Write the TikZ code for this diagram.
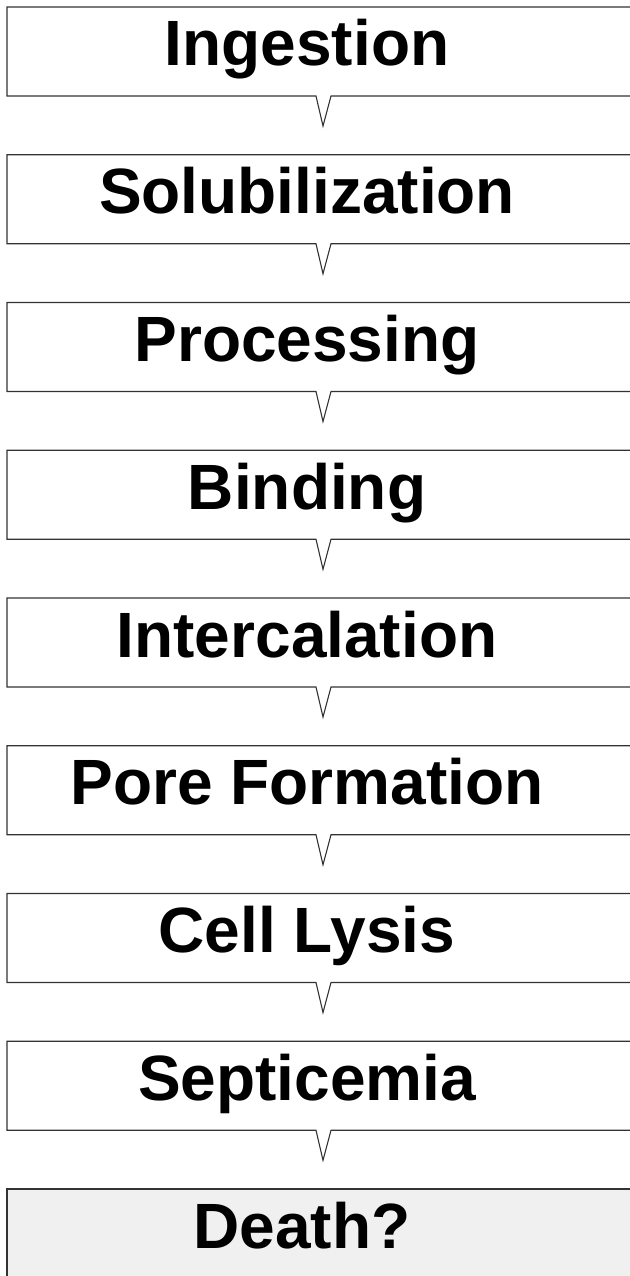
\documentclass[tikz,border=0pt]{standalone}
\usepackage{fontspec}
\setmainfont{Liberation Sans}
\begin{document}
\begin{tikzpicture}[x=1pt,y=-1pt,
  stepbox/.style={draw=black!80, line width=1.1pt},
  steplabel/.style={anchor=base, inner sep=0pt, font=\fontsize{64}{70}\selectfont\bfseries}]
  \useasboundingbox (0,0) rectangle (629,1276);

  % callout boxes, one per stage
  \foreach \name [count=\i] in {Ingestion,Solubilization,Processing,Binding,Intercalation,Pore Formation,Cell Lysis,Septicemia}{
    \pgfmathsetmacro\ytop{7+147.75*(\i-1)}
    \draw[stepbox] (640,\ytop) -- (7,\ytop) -- (7,\ytop+89) -- (316,\ytop+89)
      -- (323,\ytop+119) -- (331,\ytop+89) -- (640,\ytop+89);
    \node[steplabel] (s\i) at (307,\ytop+59) {\name};
  }

  % last stage is shaded
  \fill[black!6] (7,1189) rectangle (640,1290);
  \draw[stepbox] (640,1189) -- (7,1189) -- (7,1290);
  \node[steplabel] (s9) at (302,1248) {Death?};
\end{tikzpicture}
\end{document}
